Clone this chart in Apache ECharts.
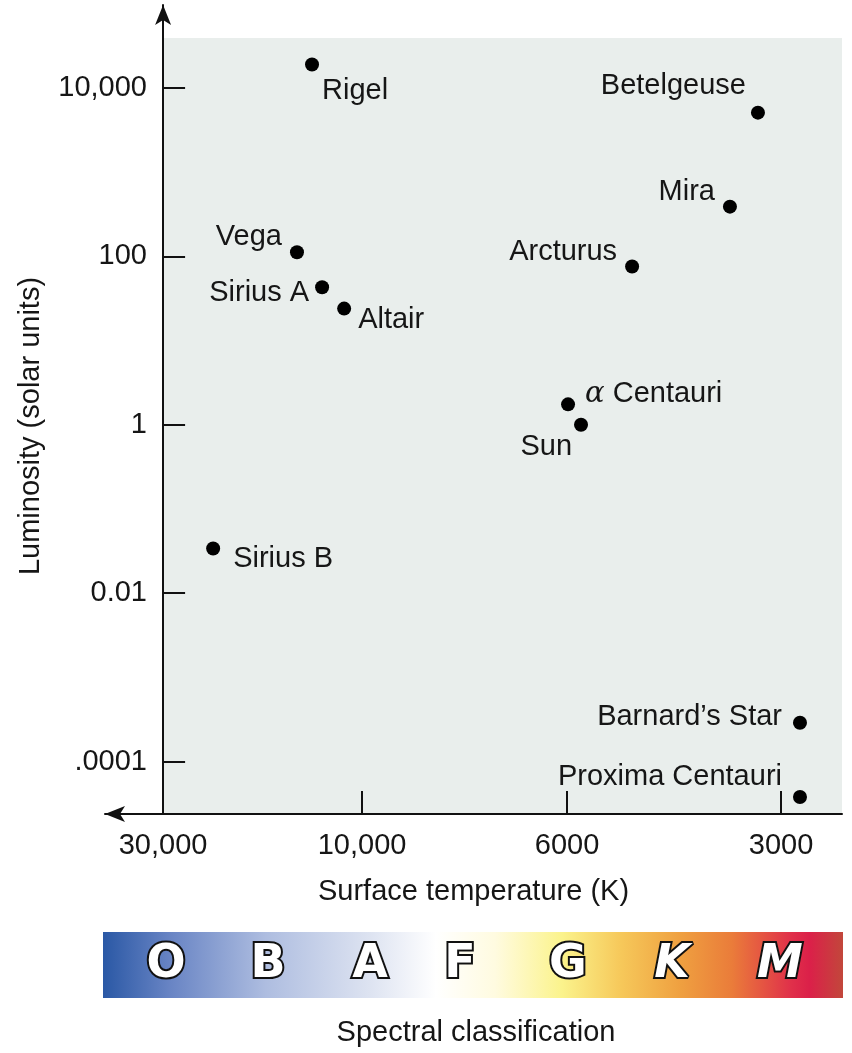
<!DOCTYPE html>
<html>
<head>
<meta charset="utf-8">
<title>Luminosity vs surface temperature</title>
<script src="https://cdn.jsdelivr.net/npm/echarts@6/dist/echarts.min.js"></script>
<style>
  html, body { margin: 0; padding: 0; background: #fff; }
  #chart { width: 852px; height: 1053px; }
</style>
</head>
<body>
<div id="chart"></div>
<script>
// star data (x = position on the temperature scale, between the tick marks)
var stars = ['Rigel', 'Betelgeuse', 'Mira', 'Vega', 'Sirius A', 'Altair', 'Arcturus',
             'α Centauri', 'Sun', 'Sirius B', 'Barnard’s Star', 'Proxima Centauri'];
var tempPos = [0.723, 2.888, 2.752, 0.650, 0.772, 0.879, 2.277, 1.966, 2.029, 0.243, 3.092, 3.092];
var luminosity = [19000, 5100, 390, 112, 43, 24, 76, 1.75, 1, 0.034, 0.00029, 0.000038];

var xTickPos = [0, 0.966, 1.961, 3];
var xTickLabels = ['30,000', '10,000', '6000', '3000'];
var yTickExp = [4, 2, 0, -2, -4];
var yTickLabels = ['10,000', '100', '1', '0.01', '.0001'];
var spectralClasses = ['O', 'B', 'A', 'F', 'G', 'K', 'M'];

// layout
var FONT = 'Liberation Sans, Arial, Helvetica, sans-serif';
var INK = '#161616';
var xMin = -0.282, xMax = 3.296;
var yMin = -4.622, yMax = 4.986, bgTop = 4.594;

// where each name sits beside its dot: [side, distance, dy]
var labelPlace = {
  'Rigel': ['right', 3, 26],
  'Betelgeuse': ['left', 5, -27],
  'Mira': ['left', 8, -15],
  'Vega': ['left', 8, -15],
  'Sirius A': ['left', 6, 6],
  'Altair': ['right', 7, 11],
  'Arcturus': ['left', 8, -14],
  'α Centauri': ['right', 10, -10],
  'Sun': ['left', 2, 22],
  'Sirius B': ['right', 13, 11],
  'Barnard’s Star': ['left', 11, -6],
  'Proxima Centauri': ['left', 11, -20]
};

function nearestLabel(v, pos, labels) {
  var best = 0;
  for (var i = 1; i < pos.length; i++) {
    if (Math.abs(pos[i] - v) < Math.abs(pos[best] - v)) best = i;
  }
  return labels[best];
}

var points = stars.map(function (n, i) {
  var p = labelPlace[n];
  return {
    name: n,
    value: [tempPos[i], Math.log10(luminosity[i])],
    label: { position: p[0], distance: p[1], offset: [0, p[2]] }
  };
});

var letterX = [166, 268, 370, 460, 568, 672, 780];
var graphics = [
  {
    type: 'text', x: 31, y: 426, rotation: Math.PI / 2,
    style: { text: 'Luminosity (solar units)', fontSize: 29, fontFamily: FONT,
             fill: INK, align: 'center', verticalAlign: 'middle' }
  },
  {
    type: 'rect', shape: { x: 103, y: 932, width: 740, height: 66 },
    style: {
      fill: new echarts.graphic.LinearGradient(0, 0, 1, 0, [
        { offset: 0, color: '#2a58a5' },
        { offset: 0.09, color: '#6884c4' },
        { offset: 0.22, color: '#aebde0' },
        { offset: 0.36, color: '#dde3f1' },
        { offset: 0.45, color: '#ffffff' },
        { offset: 0.53, color: '#fffbe0' },
        { offset: 0.62, color: '#fbf38c' },
        { offset: 0.70, color: '#f6c85a' },
        { offset: 0.78, color: '#efa040' },
        { offset: 0.85, color: '#ea7c3a' },
        { offset: 0.93, color: '#e0304a' },
        { offset: 0.955, color: '#db2049' },
        { offset: 1, color: '#c2473b' }
      ])
    }
  },
  {
    type: 'text', x: 476, y: 1033,
    style: { text: 'Spectral classification', fontSize: 29, fontFamily: FONT,
             fill: INK, align: 'center', verticalAlign: 'middle' }
  }
];
spectralClasses.forEach(function (c, i) {
  graphics.push({
    type: 'text', x: letterX[i], y: 965,
    style: {
      text: c, fontSize: 46, fontWeight: 'bold', fontFamily: 'DejaVu Sans',
      fontStyle: (c === 'K' || c === 'M') ? 'italic' : 'normal',
      fill: '#fff', stroke: '#111', lineWidth: 4, strokeFirst: true,
      align: 'center', verticalAlign: 'middle'
    }
  });
});

var chart = echarts.init(document.getElementById('chart'));
chart.setOption({
  animation: false,
  backgroundColor: '#fff',
  grid: { left: 105, right: 10, top: 5, bottom: 239 },
  xAxis: {
    type: 'value', min: xMin, max: xMax, z: 10,
    name: 'Surface temperature (K)', nameLocation: 'middle', nameGap: 63,
    nameTextStyle: { fontSize: 29, fontFamily: FONT, color: INK },
    axisLine: { onZero: false, symbol: ['arrow', 'none'], symbolSize: [12, 20],
                lineStyle: { color: '#111', width: 2 } },
    axisTick: { inside: true, length: 23, customValues: xTickPos,
                lineStyle: { color: '#111', width: 2 } },
    axisLabel: { customValues: xTickPos, margin: 17, fontSize: 29, fontFamily: FONT, color: INK,
                 formatter: function (v) { return nearestLabel(v, xTickPos, xTickLabels); } },
    splitLine: { show: false }
  },
  yAxis: {
    type: 'value', min: yMin, max: yMax, z: 10,
    axisLine: { onZero: true, symbol: ['none', 'arrow'], symbolSize: [12, 20],
                lineStyle: { color: '#111', width: 2 } },
    axisTick: { inside: true, length: 22, customValues: yTickExp,
                lineStyle: { color: '#111', width: 2 } },
    // labels stay at the grid edge, so pull them over to the shifted axis line
    axisLabel: { customValues: yTickExp, margin: -42, fontSize: 29, fontFamily: FONT, color: INK,
                 formatter: function (v) { return nearestLabel(v, yTickExp, yTickLabels); } },
    splitLine: { show: false }
  },
  series: [
    {
      type: 'scatter', z: 1, silent: true, data: [],
      markArea: {
        silent: true,
        itemStyle: { color: '#e9eeec', opacity: 1 },
        data: [[{ coord: [0, bgTop] }, { coord: [xMax, yMin] }]]
      }
    },
    {
      type: 'scatter', z: 3, symbolSize: 14,
      itemStyle: { color: '#000', opacity: 1 },
      label: {
        show: true, fontSize: 29, fontFamily: FONT, color: INK, opacity: 1,
        formatter: function (p) {
          return p.name === 'α Centauri' ? '{g|α} Centauri' : p.name;
        },
        rich: { g: { fontSize: 29, fontFamily: 'DejaVu Serif', fontStyle: 'italic', color: INK } }
      },
      data: points
    }
  ],
  graphic: graphics
});
</script>
</body>
</html>
